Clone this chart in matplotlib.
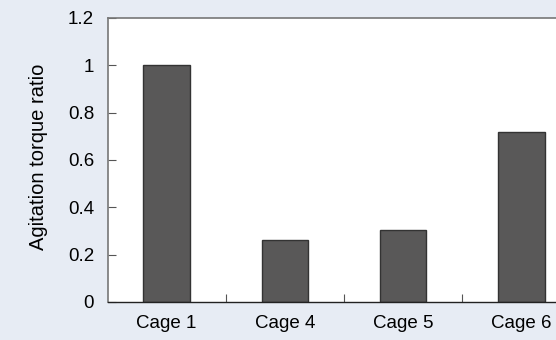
import matplotlib
matplotlib.use("Agg")
import matplotlib.pyplot as plt
import numpy as np

categories = ["Cage 1", "Cage 4", "Cage 5", "Cage 6"]
torque_ratio = [1.0, 0.263, 0.305, 0.72]
yticks = [0, 0.2, 0.4, 0.6, 0.8, 1, 1.2]
ytick_labels = ["0", "0.2", "0.4", "0.6", "0.8", "1", "1.2"]

plt.rcParams["font.family"] = ["Liberation Sans", "DejaVu Sans"]

bg = "#e7ecf4"
fig = plt.figure(figsize=(5.56, 3.4), dpi=100, facecolor=bg)
# plot area runs past the right edge of the figure
ax = fig.add_axes([107.5 / 556, 1 - 302 / 340, (580.5 - 107.5) / 556, (302 - 18) / 340])
ax.set_facecolor("white")

x = np.arange(len(categories))
ax.bar(x, torque_ratio, width=0.395, color="#595858", edgecolor="#333333", linewidth=1.0)

ax.set_xlim(-0.5, len(categories) - 0.5)
ax.set_ylim(0, 1.2)
ax.set_yticks(yticks)
ax.set_yticklabels(ytick_labels, fontsize=13.5)

ax.set_xticks(x)
ax.set_xticklabels(categories, fontsize=13.5)
ax.tick_params(axis="x", which="major", length=0, pad=9.5)
ax.set_xticks(np.arange(len(categories) - 1) + 0.5, minor=True)
ax.tick_params(axis="x", which="minor", direction="in", length=6, width=0.8, color="#555555")
ax.tick_params(axis="y", direction="in", length=6, width=0.8, color="#555555", pad=9.7)

ax.set_ylabel("Agitation torque ratio", fontsize=14.5)
ax.yaxis.set_label_coords(-0.126, 0.512)

ax.spines["left"].set_color("#777777")
ax.spines["left"].set_linewidth(1.2)
ax.spines["top"].set_color("#777777")
ax.spines["top"].set_linewidth(1.2)
ax.spines["bottom"].set_color("#222222")
ax.spines["bottom"].set_linewidth(1.0)
ax.spines["right"].set_visible(False)

fig.savefig("out.png", dpi=100, facecolor=bg)
